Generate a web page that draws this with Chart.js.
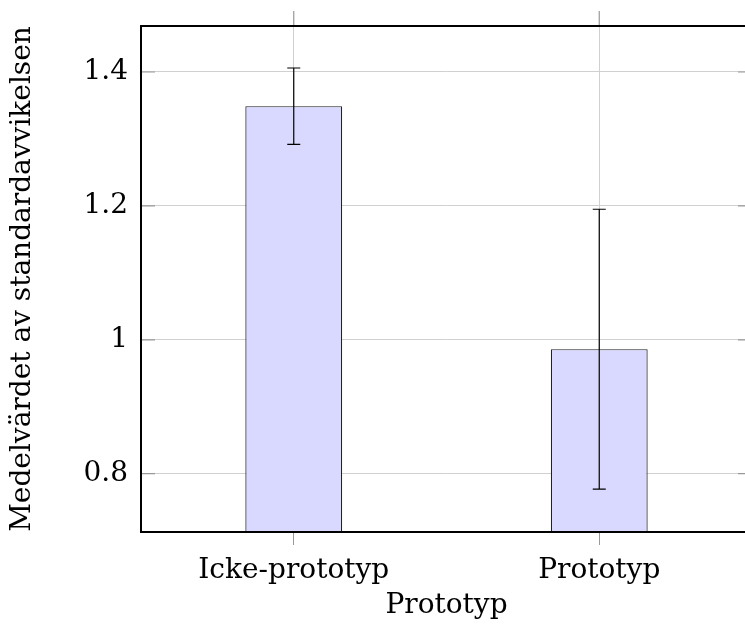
<!DOCTYPE html>
<html>
<head>
<meta charset="utf-8">
<script src="https://cdn.jsdelivr.net/npm/chart.js@4"></script>
<style>
  html, body { margin: 0; padding: 0; overflow: hidden; background: #fff; }
  #wrap { width: 755px; height: 624px; }
</style>
</head>
<body>
<div id="wrap"><canvas id="myChart"></canvas></div>
<script>
// values
const categories = ['Icke-prototyp', 'Prototyp'];
const means = [1.349, 0.986];
const errors = [0.057, 0.209];
const yTicks = [0.8, 1.0, 1.2, 1.4];
const yMin = 0.7129;
const yMax = 1.4687;

const serif = "'DejaVu Serif', serif";

// box, pgfplots-style tick marks and error bars
const extras = {
    id: 'extras',
    afterDatasetsDraw(chart) {
        let ctx = chart.ctx;
        let x = chart.scales.x, y = chart.scales.y;
        ctx.save();
        ctx.strokeStyle = '#000';
        ctx.lineWidth = 1.2;
        means.forEach((m, i) => {
            let px = x.getPixelForValue(i);
            let top = y.getPixelForValue(m + errors[i]);
            let bot = y.getPixelForValue(m - errors[i]);
            ctx.beginPath();
            ctx.moveTo(px, top); ctx.lineTo(px, bot);
            ctx.moveTo(px - 6.5, top); ctx.lineTo(px + 6.5, top);
            ctx.moveTo(px - 6.5, bot); ctx.lineTo(px + 6.5, bot);
            ctx.stroke();
        });
        ctx.restore();
    },
    afterDraw(chart) {
        let ctx = chart.ctx;
        let a = chart.chartArea;
        let x = chart.scales.x, y = chart.scales.y;
        ctx.save();
        ctx.strokeStyle = '#999';
        ctx.lineWidth = 1.2;
        ctx.beginPath();
        categories.forEach((c, i) => {
            let px = x.getPixelForValue(i);
            ctx.moveTo(px, a.top - 15); ctx.lineTo(px, a.top);
        });
        yTicks.forEach(v => {
            let py = y.getPixelForValue(v);
            ctx.moveTo(a.left, py); ctx.lineTo(a.left + 14, py);
            ctx.moveTo(a.right, py); ctx.lineTo(a.right - 14, py);
        });
        ctx.stroke();
        ctx.strokeStyle = '#000';
        ctx.lineWidth = 2;
        ctx.strokeRect(a.left, a.top, a.right - a.left, a.bottom - a.top);
        ctx.restore();
    }
};

let ctx = document.getElementById('myChart').getContext('2d');
let myChart = new Chart(ctx, {
    type: 'bar',
    data: {
        labels: categories,
        datasets: [{
            data: means,
            backgroundColor: '#d9d9ff',
            borderColor: '#222',
            borderWidth: 1.2,
            categoryPercentage: 1,
            barPercentage: 0.317
        }]
    },
    options: {
        responsive: true,
        maintainAspectRatio: false,
        animation: false,
        layout: { padding: { top: 26, right: 3, left: 0, bottom: 0 } },
        plugins: {
            legend: { display: false },
            tooltip: { enabled: false }
        },
        scales: {
            x: {
                offset: true,
                grid: { offset: false, color: '#d0d0d0', tickColor: '#999', tickLength: 13, lineWidth: 1 },
                border: { display: false },
                ticks: { color: '#000', font: { family: serif, size: 28 }, padding: 9, maxRotation: 0 },
                title: { display: true, text: 'Prototyp', color: '#000', font: { family: serif, size: 28 }, padding: { top: 0, bottom: 1 } },
                afterFit: s => { s.height = 92; s.paddingLeft = 0; s.paddingRight = 0; }
            },
            y: {
                min: yMin,
                max: yMax,
                grid: { color: '#d0d0d0', drawTicks: false, lineWidth: 1 },
                border: { display: false },
                afterBuildTicks: s => { s.ticks = yTicks.map(v => ({ value: v })); },
                ticks: {
                    color: '#000',
                    font: { family: serif, size: 28 },
                    padding: 13,
                    callback: v => String(Math.round(v * 10) / 10)
                },
                title: { display: true, text: 'Medelvärdet av standardavvikelsen', color: '#000', font: { family: serif, size: 28 }, padding: { top: 6, bottom: 0 } },
                afterFit: s => { s.width = 141; s.paddingTop = 0; s.paddingBottom = 0; }
            }
        }
    },
    plugins: [extras]
});
</script>
</body>
</html>
